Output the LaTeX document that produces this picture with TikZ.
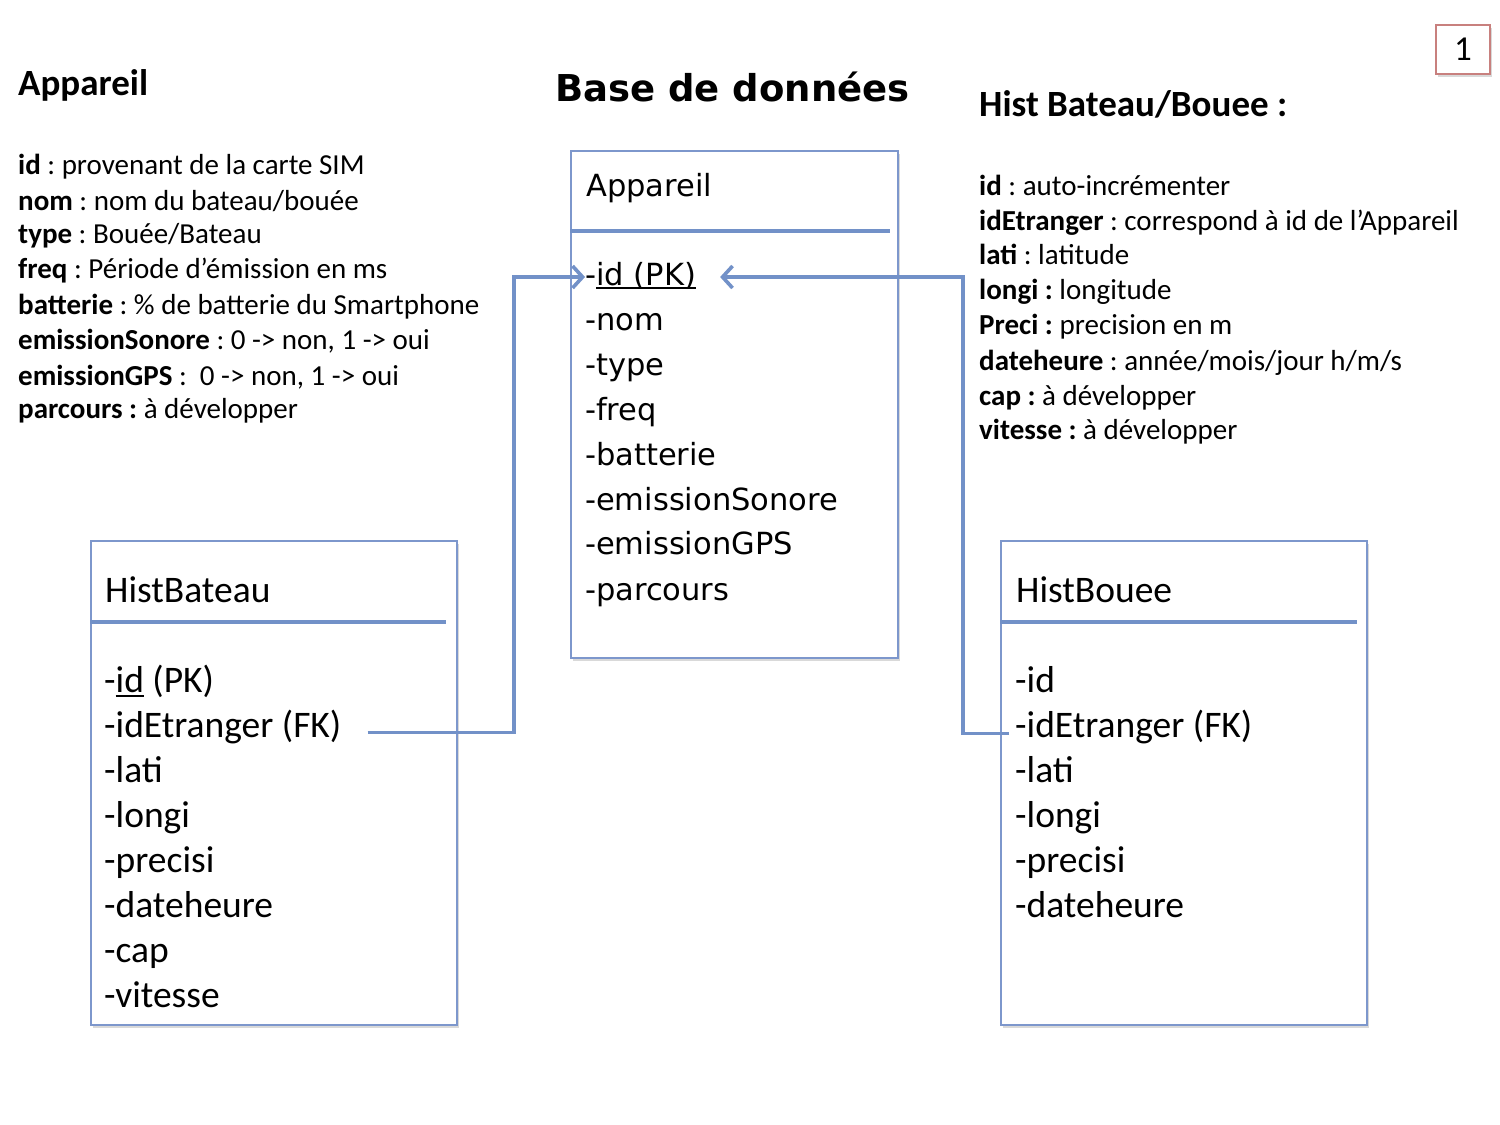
\documentclass[tikz,border=0pt]{standalone}
\usepackage{fontspec}
\setmainfont{Carlito}
\newfontfamily\verd{DejaVu Sans}
\usetikzlibrary{arrows.meta,calc,shadows}
\definecolor{connc}{RGB}{114,145,200}
\definecolor{tblline}{RGB}{125,151,204}
\definecolor{pgred}{RGB}{200,128,126}
\newlength\myulw
\newcommand\myul[1]{\settowidth{\myulw}{#1}\rlap{\rule[-0.13em]{\myulw}{0.06em}}#1}
\frenchspacing
\begin{document}
\begin{tikzpicture}[x=1pt,y=-1pt,
  desc/.style={anchor=base west,inner sep=0pt,font=\fontsize{29}{35}\selectfont},
  ttl/.style={anchor=base west,inner sep=0pt,font=\fontsize{37}{44}\selectfont\bfseries},
  vitem/.style={anchor=base west,inner sep=0pt,font=\verd\fontsize{30.5}{36}\selectfont},
  citem/.style={anchor=base west,inner sep=0pt,font=\fontsize{37.5}{44}\selectfont},
  tbl/.style={draw=tblline,line width=2pt,fill=white,anchor=north west,inner sep=0pt,
    drop shadow={shadow xshift=2pt,shadow yshift=-3pt,opacity=0.25,fill=black!60}},
  hdr/.style={draw=connc,line width=4.5pt},
  conn/.style={draw=connc,line width=3.6pt,-{Straight Barb[length=10pt,width=22pt,line width=3.6pt]}},
]
\useasboundingbox (0,0) rectangle (1500,1125);

% page number
\node[draw=pgred,line width=1.8pt,fill=white,minimum width=54pt,minimum height=49pt,inner sep=0pt,
  drop shadow={shadow xshift=2pt,shadow yshift=-3pt,opacity=0.25,fill=black!60},
  font=\fontsize{35}{40}\selectfont] (pgnum) at (1463,49.5) {1};

% left description
\node[ttl] (lt) at (18,95) {Appareil};
\node[desc] (l1) at (18,174.5) {\textbf{id} : provenant de la carte SIM};
\node[desc] (l2) at (18,210.5) {\textbf{nom} : nom du bateau/bouée};
\node[desc] (l3) at (18,243.5) {\textbf{type} : Bouée/Bateau};
\node[desc] (l4) at (18,278.5) {\textbf{freq} : Période d’émission en ms};
\node[desc] (l5) at (18,314.5) {\textbf{batterie} : \% de batterie du Smartphone};
\node[desc] (l6) at (18,349.5) {\textbf{emissionSonore} : 0 -> non, 1 -> oui};
\node[desc] (l7) at (18,385.5) {\textbf{emissionGPS} :\ \ 0 -> non, 1 -> oui};
\node[desc] (l8) at (18,418.5) {\textbf{parcours :} à développer};

% right description
\node[ttl] (rt) at (979,116) {Hist Bateau/Bouee :};
\node[desc] (r1) at (979,195.5) {\textbf{id} : auto-incrémenter};
\node[desc] (r2) at (979,230.5) {\textbf{idEtranger} : correspond à id de l’Appareil};
\node[desc] (r3) at (979,264.5) {\textbf{lati} : latitude};
\node[desc] (r4) at (979,299.5) {\textbf{longi :} longitude};
\node[desc] (r5) at (979,334.5) {\textbf{Preci :} precision en m};
\node[desc] (r6) at (979,370.5) {\textbf{dateheure} : année/mois/jour h/m/s};
\node[desc] (r7) at (979,405.5) {\textbf{cap :} à développer};
\node[desc] (r8) at (979,439.5) {\textbf{vitesse :} à développer};

% center title
\node[anchor=base west,inner sep=0pt,font=\verd\bfseries\fontsize{37}{44}\selectfont] (bdd) at (555,101) {Base de données};

% tables
\node[tbl,minimum width=327pt,minimum height=507pt] (appbox) at (570,150) {};
\node[tbl,minimum width=366pt,minimum height=484pt] (hbbox) at (90,540) {};
\node[tbl,minimum width=366pt,minimum height=484pt] (hobox) at (1000,540) {};

\draw[hdr] (570,231) -- (890,231);
\draw[hdr] (90,622) -- (446,622);
\draw[hdr] (1000,622) -- (1357,622);

% Appareil table
\node[vitem] (apphdr) at (586,196) {Appareil};
\node[vitem] (appid) at (585,285) {-\myul{id (PK)}};
\node[vitem] (appnom) at (585,330) {-nom};
\node[vitem] (apptype) at (585,375) {-type};
\node[vitem] (appfreq) at (585,420) {-freq};
\node[vitem] (appbat) at (585,465) {-batterie};
\node[vitem] (appson) at (585,510) {-emissionSonore};
\node[vitem] (appgps) at (585,554) {-emissionGPS};
\node[vitem] (apppar) at (585,600) {-parcours};

% HistBateau table
\node[citem] (hbhdr) at (105,602) {HistBateau};
\node[citem] (hbid) at (104,692.5) {-\myul{id} (PK)};
\node[citem] (hbfk) at (104,737.4) {-idEtranger (FK)};
\node[citem] (hblati) at (104,782.3) {-lati};
\node[citem] (hblongi) at (104,827.2) {-longi};
\node[citem] (hbprec) at (104,872) {-precisi};
\node[citem] (hbdate) at (104,917) {-dateheure};
\node[citem] (hbcap) at (104,962) {-cap};
\node[citem] (hbvit) at (104,1007) {-vitesse};

% HistBouee table
\node[citem] (hohdr) at (1016,602) {HistBouee};
\node[citem] (hoid) at (1015,692.5) {-id};
\node[citem] (hofk) at (1015,737.4) {-idEtranger (FK)};
\node[citem] (holati) at (1015,782.3) {-lati};
\node[citem] (holongi) at (1015,827.2) {-longi};
\node[citem] (hoprec) at (1015,872) {-precisi};
\node[citem] (hodate) at (1015,917) {-dateheure};

% connectors
\coordinate (j1) at (514,500);
\coordinate (j2) at (963,500);
\draw[conn] ($(hbfk.base east)+(26,-5)$) -| (j1) |- ($(appid.base west)+(0,-8)$);
\draw[conn] ($(hofk.base west)+(-6,-4)$) -| (j2) |- ($(appid.base east)+(24,-8)$);
\end{tikzpicture}
\end{document}
